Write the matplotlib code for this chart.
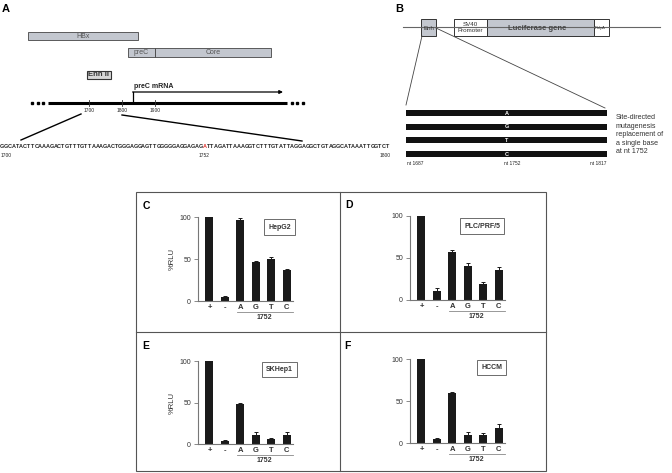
import matplotlib
matplotlib.use("Agg")
import matplotlib.pyplot as plt
from matplotlib.patches import Rectangle

plt.rcParams["font.family"] = ["Liberation Sans", "DejaVu Sans"]

W, H = 672, 473

# luciferase data (%RLU)
bases = ["+", "-", "A", "G", "T", "C"]
hepg2 = [100, 5, 96, 46, 50, 37]
hepg2_err = [0, 1, 3, 2, 2, 1]
plc = [100, 11, 57, 40, 19, 36]
plc_err = [0, 3, 2, 4, 2, 3]
skhep1 = [100, 4, 48, 11, 6, 11]
skhep1_err = [0, 1, 2, 4, 1, 4]
hccm = [100, 5, 59, 9, 9, 18]
hccm_err = [0, 1, 2, 4, 3, 5]

# sequence of nt 1700-1800, mutated base in red
sequence = ("GGCATACTTCAAAGACTGTTTGTTAAAGACTGGGAGGAGTTGGGGGAGGAGAG"
            "A"
            "TTAGATTAAAGGTCTTTGTATTAGGAGGCTGTAGGCATAAATTGGTCT")
mut_index = 53
genome_ticks = [1700, 1800, 1900]
construct_bases = ["A", "G", "T", "C"]
nt_labels = ["nt 1687", "nt 1752", "nt 1817"]
side_text = "Site-directed\nmutagenesis\nreplacement of\na single base\nat nt 1752"

DARK = "#222222"
GREY_FILL = "#c3c7cf"

fig = plt.figure(figsize=(W / 100, H / 100), dpi=100)
ax0 = fig.add_axes([0, 0, 1, 1])
ax0.set_xlim(0, W)
ax0.set_ylim(H, 0)
ax0.axis("off")

# ---------- panel A ----------
ax0.text(2, 9, "A", fontsize=8, fontweight="bold", va="center")
ax0.add_patch(Rectangle((28, 32), 110, 8, fc=GREY_FILL, ec="#444", lw=0.6))
ax0.text(83, 36, "HBx", fontsize=5, color="#555", ha="center", va="center")
ax0.add_patch(Rectangle((128, 48), 27, 9, fc=GREY_FILL, ec="#444", lw=0.6))
ax0.add_patch(Rectangle((155, 48), 116, 9, fc=GREY_FILL, ec="#444", lw=0.6))
ax0.text(141.5, 52.5, "preC", fontsize=5, color="#555", ha="center", va="center")
ax0.text(213, 52.5, "Core", fontsize=5, color="#555", ha="center", va="center")
ax0.add_patch(Rectangle((87, 71), 24, 8, fc="#d6d6d6", ec="#333", lw=0.8))
ax0.text(99, 75, "Enh II", fontsize=5.5, fontweight="bold", color="#333",
         ha="center", va="center")

ax0.plot([48, 287], [103, 103], color="black", lw=2.2, solid_capstyle="butt")
ax0.plot([32, 38, 43], [103] * 3, "s", ms=2, color="black")
ax0.plot([292, 297, 303], [103] * 3, "s", ms=2, color="black")
for nt in genome_ticks:
    gx = 89 + (nt - 1700) * 0.33
    ax0.plot([gx, gx], [100, 106], color="#333", lw=0.6)
    ax0.text(gx, 110, str(nt), fontsize=3.5, ha="center", va="center", color=DARK)

ax0.plot([133, 133], [103, 92], color="black", lw=0.9)
ax0.annotate("", xy=(283, 92), xytext=(132.6, 92),
             arrowprops=dict(arrowstyle="-|>", lw=0.9, color="black",
                             mutation_scale=5, shrinkA=0, shrinkB=0))
ax0.text(134, 87, "preC mRNA", fontsize=5, fontweight="bold", ha="left",
         va="center", color=DARK)

ax0.plot([81, 21], [114, 140], color="black", lw=1)
ax0.plot([122, 302], [115, 141], color="black", lw=1)

step = 3.82
for i, ch in enumerate(sequence):
    ax0.text(1.9 + i * step, 146, ch, fontsize=4, fontweight="bold",
             ha="center", va="center",
             color="#e0302a" if i == mut_index else DARK)
ax0.text(6, 155, "1700", fontsize=3.5, ha="center", va="center", color=DARK)
ax0.text(1.9 + mut_index * step, 155, "1752", fontsize=3.5, ha="center",
         va="center", color=DARK)
ax0.text(385, 155, "1800", fontsize=3.5, ha="center", va="center", color=DARK)

# ---------- panel B ----------
ax0.text(395, 9, "B", fontsize=8, fontweight="bold", va="center")
ax0.plot([403, 660], [27, 27], color="#666", lw=0.8)
ax0.add_patch(Rectangle((421, 19), 15, 17, fc=GREY_FILL, ec="#333", lw=0.7))
ax0.text(423, 28, "Enh", fontsize=4.5, ha="left", va="center", color="#333")
ax0.add_patch(Rectangle((454, 19), 33, 17, fc="white", ec="#333", lw=0.7))
ax0.text(470.5, 27.5, "SV40\nPromoter", fontsize=4.5, ha="center", va="center",
         color="#333", linespacing=1.0)
ax0.add_patch(Rectangle((487, 19), 107, 17, fc=GREY_FILL, ec="#333", lw=0.7))
ax0.text(537, 28, "Luciferase gene", fontsize=5.5, fontweight="bold",
         ha="center", va="center", color="#444")
ax0.add_patch(Rectangle((594, 19), 15, 17, fc="white", ec="#333", lw=0.7))
ax0.text(595, 28, "PolyA", fontsize=3, ha="left", va="center", color="#333")
ax0.plot([422, 406], [36, 105], color="#444", lw=0.6)
ax0.plot([436, 605], [28, 108], color="#444", lw=0.6)

for i, b in enumerate(construct_bases):
    by = 113 + i * 13.7
    ax0.add_patch(Rectangle((406, by - 3), 201, 6, fc="#111", ec="none"))
    ax0.text(507, by, b, fontsize=4, fontweight="bold", color="white",
             ha="center", va="center")
for nx, lab in zip([415, 512, 598], nt_labels):
    ax0.text(nx, 163, lab, fontsize=3.5, ha="center", va="center", color=DARK)
ax0.text(616, 114, side_text, fontsize=5.1, ha="left", va="top",
         color="#333", linespacing=1.3)

# ---------- panels C-F frame ----------
ax0.add_patch(Rectangle((136, 192), 410, 279, fc="none", ec="#555", lw=0.8))
ax0.plot([340, 340], [192, 471], color="#555", lw=0.8)
ax0.plot([136, 546], [332, 332], color="#555", lw=0.8)


def bar_panel(left, zero, top, values, errs, cell, box_xy, letter, letter_xy,
              ylabel):
    right = left + 95
    ax = fig.add_axes([left / W, 1 - zero / H, (right - left) / W,
                       (zero - top) / H])
    x = list(range(len(bases)))
    ax.bar(x, values, width=0.52, color="#1a1a1a", clip_on=False, zorder=2)
    ax.errorbar(x, values, yerr=[[0] * len(errs), errs], fmt="none",
                ecolor="#1a1a1a", elinewidth=0.7, capsize=1.5, capthick=0.7,
                clip_on=False, zorder=3)
    ax.set_xlim(-0.74, 5.4)
    ax.set_ylim(0, 100)
    ax.patch.set_alpha(0)
    for s in ["top", "right"]:
        ax.spines[s].set_visible(False)
    for s in ["left", "bottom"]:
        ax.spines[s].set_color("#777")
        ax.spines[s].set_linewidth(0.8)
    ax.set_yticks([0, 50, 100])
    ax.tick_params(axis="y", labelsize=5, length=3, width=0.6, color="#777",
                   pad=2, labelcolor="#333")
    ax.set_xticks(x)
    ax.set_xticklabels(bases, fontsize=5.5, fontweight="bold", color="#333")
    ax.tick_params(axis="x", length=0, pad=2)
    tr = ax.get_xaxis_transform()
    ax.plot([1.75, 5.4], [-0.13, -0.13], transform=tr, clip_on=False,
            color="#888", lw=0.6)
    ax.text(3.55, -0.2, "1752", transform=tr, fontsize=5, fontweight="bold",
            ha="center", va="center", color="#333")
    ax.text(box_xy[0], box_xy[1], cell, transform=ax.transAxes, fontsize=5,
            fontweight="bold", ha="center", va="center", color="#333",
            bbox=dict(boxstyle="square,pad=0.6", fc="white", ec="#555", lw=0.6))
    ax0.text(letter_xy[0], letter_xy[1], letter, fontsize=7.5,
             fontweight="bold", ha="center", va="center")
    if ylabel:
        ax0.text(left - 26, (zero + top) / 2, "%RLU", rotation=90,
                 fontsize=5.5, ha="center", va="center", color="#333")
    return ax


bar_panel(198, 301, 217, hepg2, hepg2_err, "HepG2", (0.86, 0.88), "C",
          (146, 206), True)
bar_panel(410, 300, 216, plc, plc_err, "PLC/PRF/5", (0.76, 0.88), "D",
          (349, 205), False)
bar_panel(198, 444, 361, skhep1, skhep1_err, "SKHep1", (0.86, 0.9), "E",
          (146, 346), True)
bar_panel(410, 443, 359, hccm, hccm_err, "HCCM", (0.86, 0.9), "F",
          (347, 346), False)

fig.savefig("out.png", dpi=100)
